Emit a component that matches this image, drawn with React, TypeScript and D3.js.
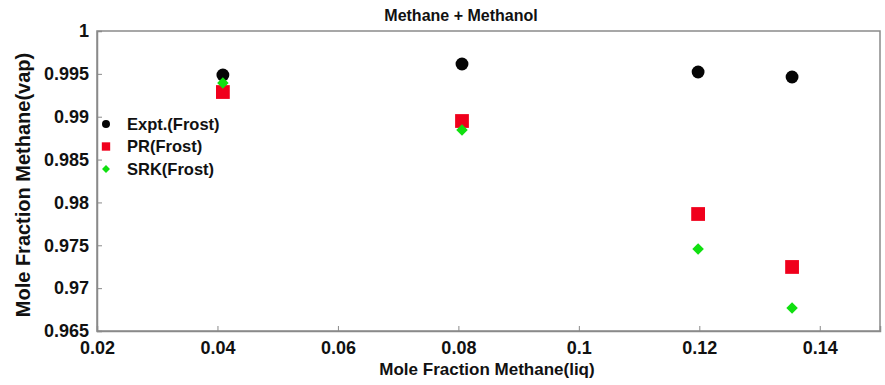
import { useRef, useEffect } from 'react'
import * as d3 from 'd3'

// Methane mole fraction in liquid (x) vs vapour (y)
const xLiq = [0.0409, 0.0806, 0.1198, 0.1354]
const exptFrost = [0.99487, 0.99615, 0.99522, 0.99463]
const prFrost = [0.99288, 0.9895, 0.97865, 0.97247]
const srkFrost = [0.99393, 0.98845, 0.97457, 0.96769]

const xTicks = [0.02, 0.04, 0.06, 0.08, 0.1, 0.12, 0.14]
const yTicks = [0.965, 0.97, 0.975, 0.98, 0.985, 0.99, 0.995, 1]
const seriesNames = ['Expt.(Frost)', 'PR(Frost)', 'SRK(Frost)']

const FONT = 'Liberation Sans, Arial, sans-serif'

export default function App() {
  const ref = useRef<SVGSVGElement>(null)

  useEffect(() => {
    if (!ref.current) return
    const svg = d3.select(ref.current)
    svg.selectAll('*').remove()

    const margin = { top: 31, right: 5, bottom: 54, left: 97 }
    const W = 885
    const H = 385
    const width = W - margin.left - margin.right
    const height = H - margin.top - margin.bottom

    const x = d3.scaleLinear().domain([0.02, 0.15]).range([0, width])
    const y = d3.scaleLinear().domain([0.965, 1]).range([height, 0])

    svg.append('rect').attr('width', W).attr('height', H).attr('fill', '#fff')

    const g = svg.append('g').attr('transform', `translate(${margin.left},${margin.top})`)

    // frame
    g.append('rect')
      .attr('width', width)
      .attr('height', height)
      .attr('fill', '#fff')
      .attr('stroke', '#8a8a8a')
      .attr('stroke-width', 1.5)

    // axes (ticks inward)
    const xAxis = g.append('g')
      .attr('transform', `translate(0,${height})`)
      .call(d3.axisBottom(x).tickValues(xTicks).tickSize(-5).tickPadding(10).tickFormat((d) => String(+d)))
    const yAxis = g.append('g')
      .call(d3.axisLeft(y).tickValues(yTicks).tickSize(-5).tickPadding(8).tickFormat((d) => String(+d)))

    ;[xAxis, yAxis].forEach((ax) => {
      ax.select('.domain').attr('stroke', '#8a8a8a').attr('stroke-width', 1.5)
      ax.selectAll('.tick line').attr('stroke', '#8a8a8a')
      ax.selectAll('.tick text')
        .attr('fill', '#111')
        .attr('font-family', FONT)
        .attr('font-weight', 'bold')
        .attr('font-size', '18px')
    })

    // markers
    const circle = d3.symbol().type(d3.symbolCircle).size(130)
    const square = d3.symbol().type(d3.symbolSquare).size(190)
    const diamond = d3.symbol().type(d3.symbolDiamond2).size(85)

    g.selectAll('.expt')
      .data(xLiq)
      .join('path')
      .attr('transform', (d, i) => `translate(${x(d)},${y(exptFrost[i])})`)
      .attr('d', circle)
      .attr('fill', '#050505')

    g.selectAll('.pr')
      .data(xLiq)
      .join('path')
      .attr('transform', (d, i) => `translate(${x(d)},${y(prFrost[i])})`)
      .attr('d', square)
      .attr('fill', '#f0001c')

    g.selectAll('.srk')
      .data(xLiq)
      .join('path')
      .attr('transform', (d, i) => `translate(${x(d)},${y(srkFrost[i])})`)
      .attr('d', diamond)
      .attr('fill', '#10e010')

    // legend
    const legendSymbols = [
      d3.symbol().type(d3.symbolCircle).size(50),
      d3.symbol().type(d3.symbolSquare).size(70),
      d3.symbol().type(d3.symbolDiamond2).size(40),
    ]
    const legendColors = ['#050505', '#f0001c', '#10e010']
    const legend = g.append('g').attr('transform', 'translate(9,93)')
    seriesNames.forEach((name, i) => {
      const row = legend.append('g').attr('transform', `translate(0,${i * 22.5})`)
      row.append('path').attr('d', legendSymbols[i]).attr('fill', legendColors[i])
      row.append('text')
        .attr('x', 21)
        .attr('dy', '0.35em')
        .attr('font-family', FONT)
        .attr('font-weight', 'bold')
        .attr('font-size', '16.5px')
        .attr('fill', '#111')
        .text(name)
    })

    // title
    svg.append('text')
      .attr('x', 461)
      .attr('y', 21)
      .attr('text-anchor', 'middle')
      .attr('font-family', FONT)
      .attr('font-weight', 'bold')
      .attr('font-size', '16px')
      .attr('fill', '#111')
      .text('Methane + Methanol')

    // x label
    svg.append('text')
      .attr('x', 487)
      .attr('y', 375)
      .attr('text-anchor', 'middle')
      .attr('font-family', FONT)
      .attr('font-weight', 'bold')
      .attr('font-size', '17px')
      .attr('fill', '#111')
      .text('Mole Fraction Methane(liq)')

    // y label
    svg.append('text')
      .attr('transform', `translate(30,${margin.top + height / 2 + 4}) rotate(-90)`)
      .attr('text-anchor', 'middle')
      .attr('font-family', FONT)
      .attr('font-weight', 'bold')
      .attr('font-size', '20px')
      .attr('fill', '#111')
      .text('Mole Fraction Methane(vap)')
  }, [])

  return (
    <div style={{ position: 'absolute', left: 0, top: 0 }}>
      <svg ref={ref} width={885} height={385} style={{ display: 'block' }} />
    </div>
  )
}
